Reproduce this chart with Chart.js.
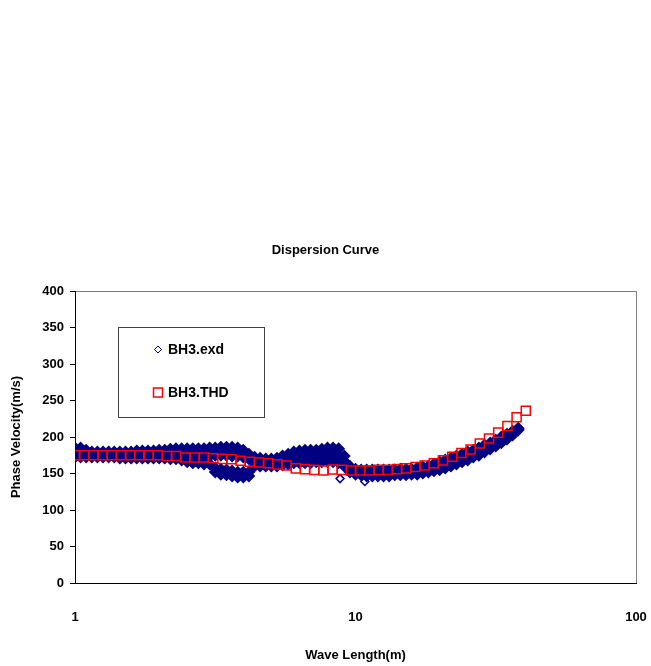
<!DOCTYPE html>
<html lang="en">
<head>
<meta charset="UTF-8">
<title>Dispersion Curve</title>
<script src="https://cdn.jsdelivr.net/npm/chart.js"></script>
<style>
  body { margin: 0; background: #fff; }
  #wrap { width: 651px; height: 666px; }
</style>
</head>
<body>
<div id="wrap"><canvas id="curve" width="651" height="666"></canvas></div>
<script>
/*** DATA ***/
const legendNames = ['BH3.exd', 'BH3.THD'];
const xTickValues = [1, 10, 100];

// BH3.THD (wave length m, phase velocity m/s)
const thdWave = [1.000, 1.078, 1.163, 1.254, 1.353, 1.459, 1.573, 1.697, 1.830, 1.973,
                 2.128, 2.295, 2.475, 2.669, 2.879, 3.105, 3.349, 3.611, 3.895, 4.200,
                 4.529, 4.885, 5.268, 5.681, 6.127, 6.607, 7.126, 7.685, 8.288, 8.938,
                 9.638, 10.39, 11.21, 12.09, 13.04, 14.06, 15.16, 16.35, 17.64, 19.02,
                 20.51, 22.12, 23.86, 25.73, 27.75, 29.92, 32.27, 34.80, 37.53, 40.47];
const thdVel = [175, 175, 175, 175, 175, 175, 175, 175, 175, 175,
                174, 174, 172, 172, 172, 171, 170, 169.5, 167.5, 166,
                165, 164, 162.5, 161, 157, 156, 155, 154, 155.5, 155,
                154, 154, 154, 155, 155, 156, 157, 159, 161, 164,
                168, 173, 178, 183, 191, 198, 206, 215, 227, 236];

// BH3.exd : dense band, read as upper edge / centre / lower edge
const exdWave = [1.000, 1.047, 1.096, 1.148, 1.202, 1.259, 1.318, 1.380, 1.445, 1.514,
                 1.585, 1.660, 1.738, 1.820, 1.905, 1.995, 2.089, 2.188, 2.291, 2.399,
                 2.512, 2.630, 2.754, 2.884, 3.020, 3.162, 3.311, 3.467, 3.631, 3.802,
                 3.981, 4.169, 4.365, 4.571, 4.786, 5.012, 5.248, 5.495, 5.754, 6.026,
                 6.310, 6.607, 6.918, 7.244, 7.586, 7.943, 8.318, 8.710, 9.120, 9.550,
                 10.00, 10.47, 10.96, 11.48, 12.02, 12.59, 13.18, 13.80, 14.45, 15.14,
                 15.85, 16.60, 17.38, 18.20, 19.05, 19.95, 20.89, 21.88, 22.91, 23.99,
                 25.12, 26.30, 27.54, 28.84, 30.20, 31.62, 33.11, 34.67, 36.31, 38.02];
const exdTop = [185, 185, 182, 179.5, 179.5, 179.5, 179.5, 179.5, 179.5, 179.5,
                179.5, 181, 181, 181, 181, 182, 182, 183.5, 184, 184,
                184, 184, 184, 184, 185, 185, 186, 186, 186, 185,
                182, 176.5, 172.5, 171, 170, 170, 171, 174, 176.5, 179.5,
                181, 182, 182, 182, 183.5, 185, 185, 184, 174, 160,
                156, 155, 155, 155, 155, 155, 155, 155, 156, 156,
                156, 157.5, 159, 160, 163, 166, 168.5, 171, 174, 176.5,
                179.5, 182, 185, 189, 192, 196, 200, 204, 208, 212];
const exdMid = [178.5, 178.5, 177, 176, 176, 176, 176, 176, 175, 175,
                175, 176, 176, 176, 176, 176.5, 176.5, 177, 177, 176,
                175, 174, 174, 173.5, 174, 180, 180.5, 180.5, 180, 179.5,
                177, 173, 166, 165.5, 165, 165, 165.5, 168, 170, 172,
                173, 173, 173, 174, 175, 175.5, 175.5, 174, 167, 156,
                152.5, 151.5, 151, 151, 151, 151, 151, 151.5, 152, 152,
                152.5, 153, 155, 156, 158, 160.5, 163, 165.5, 168.5, 171,
                174, 177, 180, 184, 188, 192, 196, 200.5, 205, 211];
const exdBot = [172.5, 172.5, 172.5, 172.5, 172.5, 172.5, 172.5, 172.5, 171, 171,
                171, 171, 171, 171, 171, 171, 171, 170, 170, 168.5,
                166, 164.5, 164.5, 163, 163, 175, 175, 175, 174, 174,
                172.5, 170, 160, 160, 160, 160, 160, 161.5, 163, 164.5,
                164.5, 164.5, 164.5, 166, 166, 166, 166, 164.5, 160, 152,
                149, 148, 146.5, 146.5, 146.5, 146.5, 146.5, 148, 148, 148,
                149, 149, 150.5, 152, 153.5, 155, 157.5, 160, 163, 166,
                168.5, 172.5, 175, 179.5, 183.5, 187.5, 192, 197, 202.5, 209.5];
// lower branch of the loop near 3-4 m
const loopWave = [3.162, 3.311, 3.467, 3.631, 3.802, 3.981, 4.169];
const loopTop = [157.5, 156, 155, 153.5, 152, 152, 152];
const loopBot = [152, 149, 148, 146.5, 145, 145, 146.5];
// isolated points
const strayWave = [8.81, 10.8];
const strayVel = [143, 139];

/*** BUILD POINTS ***/
function toPoints(xs, ys) {
  return xs.map((x, i) => ({ x: x, y: ys[i] }));
}
const exdBand = [].concat(
  toPoints(exdWave, exdTop),
  toPoints(exdWave, exdMid),
  toPoints(exdWave, exdBot),
  toPoints(loopWave, loopTop),
  toPoints(loopWave, loopBot)
);

const FONT = 'Liberation Sans, Arial, sans-serif';
const NAVY = '#000080';
const RED = '#ff0000';

/*** FRAME + LEGEND ***/
const framePlugin = {
  id: 'frame',
  beforeDraw(chart) {
    const { ctx, chartArea: a } = chart;
    ctx.save();
    ctx.strokeStyle = '#808080';
    ctx.lineWidth = 1;
    ctx.strokeRect(a.left + 0.5, a.top + 0.5, a.right - a.left, a.bottom - a.top);
    ctx.restore();
  },
  afterDraw(chart) {
    const { ctx, chartArea: a } = chart;
    const bx = a.left + 43.5, by = a.top + 36.5, bw = 146, bh = 90;
    ctx.save();
    ctx.fillStyle = '#fff';
    ctx.fillRect(bx, by, bw, bh);
    ctx.strokeStyle = '#404040';
    ctx.lineWidth = 1;
    ctx.strokeRect(bx, by, bw, bh);

    // diamond
    const mx = bx + 39.5;
    let my = by + 22;
    ctx.beginPath();
    ctx.moveTo(mx, my - 3.5);
    ctx.lineTo(mx + 3.5, my);
    ctx.lineTo(mx, my + 3.5);
    ctx.lineTo(mx - 3.5, my);
    ctx.closePath();
    ctx.strokeStyle = NAVY;
    ctx.stroke();
    // square
    const my2 = by + 65;
    ctx.strokeStyle = RED;
    ctx.lineWidth = 1.5;
    ctx.strokeRect(mx - 4.5, my2 - 4.5, 9, 9);

    ctx.fillStyle = '#000';
    ctx.font = 'bold 14px ' + FONT;
    ctx.textBaseline = 'middle';
    ctx.textAlign = 'left';
    ctx.fillText(legendNames[0], mx + 10, my + 1);
    ctx.fillText(legendNames[1], mx + 10, my2 + 1);
    ctx.restore();
  }
};

/*** CHART ***/
const ctx = document.getElementById('curve').getContext('2d');
new Chart(ctx, {
  type: 'scatter',
  data: {
    datasets: [
      {
        label: legendNames[1],
        data: toPoints(thdWave, thdVel),
        pointStyle: 'rect',
        pointRadius: 6.4,
        borderColor: RED,
        backgroundColor: 'rgba(0,0,0,0)',
        borderWidth: 1.5,
        order: 0
      },
      {
        label: legendNames[0],
        data: exdBand,
        pointStyle: 'rectRot',
        pointRadius: 5,
        borderColor: NAVY,
        backgroundColor: NAVY,
        borderWidth: 2,
        order: 1
      },
      {
        label: legendNames[0],
        data: toPoints(strayWave, strayVel),
        pointStyle: 'rectRot',
        pointRadius: 4,
        borderColor: NAVY,
        backgroundColor: 'rgba(0,0,0,0)',
        borderWidth: 1.5,
        order: 2
      }
    ]
  },
  options: {
    responsive: false,
    animation: false,
    events: [],
    layout: { padding: 0 },
    plugins: {
      legend: { display: false },
      tooltip: { enabled: false },
      title: {
        display: true,
        text: 'Dispersion Curve',
        color: '#000',
        font: { family: FONT, size: 13, weight: 'bold' },
        padding: { top: 243, bottom: 32.4 }
      }
    },
    scales: {
      x: {
        type: 'logarithmic',
        min: 1,
        max: 100,
        afterBuildTicks(scale) {
          scale.ticks = xTickValues.map(v => ({ value: v }));
        },
        afterFit(scale) {
          scale.height = 83;
          scale.paddingRight = 15;
          scale.paddingLeft = 0;
        },
        ticks: {
          color: '#000',
          font: { family: FONT, size: 13, weight: 'bold' },
          padding: 27,
          maxRotation: 0,
          callback: v => String(v)
        },
        grid: { display: true, drawOnChartArea: false, drawTicks: false },
        border: { color: '#000', width: 1 },
        title: {
          display: true,
          text: 'Wave Length(m)',
          color: '#000',
          font: { family: FONT, size: 13, weight: 'bold' },
          padding: { top: 0, bottom: 3 }
        }
      },
      y: {
        min: 0,
        max: 400,
        afterFit(scale) { scale.width = 75; },
        ticks: {
          stepSize: 50,
          color: '#000',
          font: { family: FONT, size: 13, weight: 'bold' },
          padding: 6
        },
        grid: { display: true, drawOnChartArea: false, tickLength: 5, color: '#000' },
        border: { color: '#000', width: 1 },
        title: {
          display: true,
          text: 'Phase Velocity(m/s)',
          color: '#000',
          font: { family: FONT, size: 13, weight: 'bold' },
          padding: { top: 9, bottom: 0 }
        }
      }
    }
  },
  plugins: [framePlugin]
});
</script>
</body>
</html>
